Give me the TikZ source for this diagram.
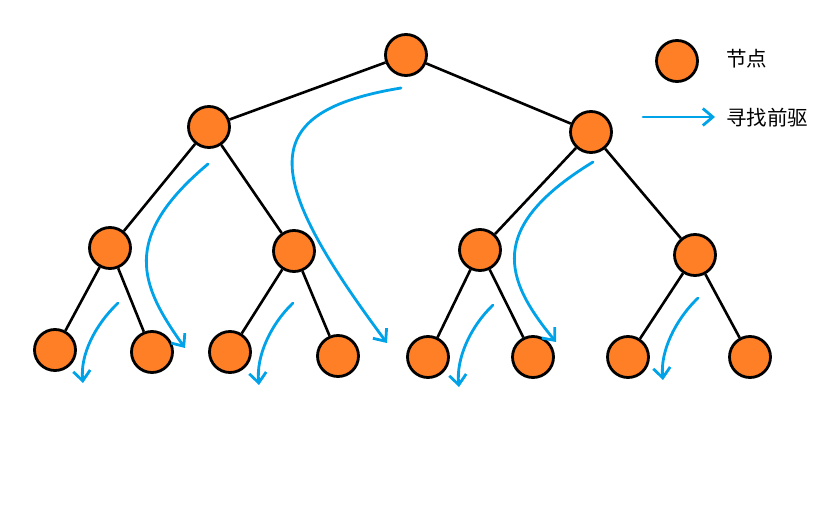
\documentclass[tikz,border=0pt]{standalone}
\usepackage{fontspec}
\newfontfamily\cjk{Noto Sans CJK SC}
\usetikzlibrary{arrows.meta}
\definecolor{nodeorange}{HTML}{FF7F27}
\definecolor{arrowblue}{HTML}{00A2E8}
\begin{document}
\begin{tikzpicture}[x=1pt,y=-1pt,
  tnode/.style={circle,draw=black,line width=2.8pt,fill=nodeorange,minimum size=41pt,inner sep=0pt},
  edge/.style={draw=black,line width=2.6pt},
  pred/.style={draw=arrowblue,line width=2.8pt,line cap=round,-{Straight Barb[length=10pt,width=17pt,line width=2.8pt]}},
  lbl/.style={font=\cjk\fontsize{20.5}{24}\selectfont,anchor=west,inner sep=0pt}]
\useasboundingbox[fill=white] (0,0) rectangle (838,513);
% tree nodes
\node[tnode] (r) at (406,55) {};
\node[tnode] (a) at (209,127) {};
\node[tnode] (b) at (591,132) {};
\node[tnode] (aa) at (110,248) {};
\node[tnode] (ab) at (294,251) {};
\node[tnode] (ba) at (480,250) {};
\node[tnode] (bb) at (695,255) {};
\node[tnode] (l1) at (55,350) {};
\node[tnode] (l2) at (152,352) {};
\node[tnode] (l3) at (230,352) {};
\node[tnode] (l4) at (338,356) {};
\node[tnode] (l5) at (428,357) {};
\node[tnode] (l6) at (533,357) {};
\node[tnode] (l7) at (628,357) {};
\node[tnode] (l8) at (750,357) {};
% edges
\draw[edge] (r) -- (a);
\draw[edge] (r) -- (b);
\draw[edge] (a) -- (aa);
\draw[edge] (a) -- (ab);
\draw[edge] (b) -- (ba);
\draw[edge] (b) -- (bb);
\draw[edge] (aa) -- (l1);
\draw[edge] (aa) -- (l2);
\draw[edge] (ab) -- (l3);
\draw[edge] (ab) -- (l4);
\draw[edge] (ba) -- (l5);
\draw[edge] (ba) -- (l6);
\draw[edge] (bb) -- (l7);
\draw[edge] (bb) -- (l8);
% predecessor arrows
\coordinate (p1s) at (401,88);  \coordinate (p1e) at (387,343);
\coordinate (p2s) at (208,164); \coordinate (p2e) at (185,348);
\coordinate (p3s) at (593,162); \coordinate (p3e) at (556,342);
\coordinate (p4s) at (118,303); \coordinate (p4e) at (83,383);
\coordinate (p5s) at (293,303); \coordinate (p5e) at (259,385);
\coordinate (p6s) at (493,305); \coordinate (p6e) at (459,387);
\coordinate (p7s) at (698,298); \coordinate (p7e) at (663,380);
\draw[pred] (p1s) .. controls (255,112) and (262,175) .. (p1e);
\draw[pred] (p2s) .. controls (120,238) and (140,285) .. (p2e);
\draw[pred] (p3s) .. controls (485,228) and (505,280) .. (p3e);
\draw[pred] (p4s) .. controls (95,325) and (80,355) .. (p4e);
\draw[pred] (p5s) .. controls (270,325) and (256,357) .. (p5e);
\draw[pred] (p6s) .. controls (470,327) and (456,359) .. (p6e);
\draw[pred] (p7s) .. controls (675,320) and (660,352) .. (p7e);
% legend
\node[tnode] (key) at (677,61) {};
\node[lbl] (keyt) at (726,59) {节点};
\coordinate (ka) at (643,117);
\coordinate (kb) at (715,117);
\draw[pred] (ka) -- (kb);
\node[lbl] (predt) at (726,118) {寻找前驱};
\end{tikzpicture}
\end{document}
